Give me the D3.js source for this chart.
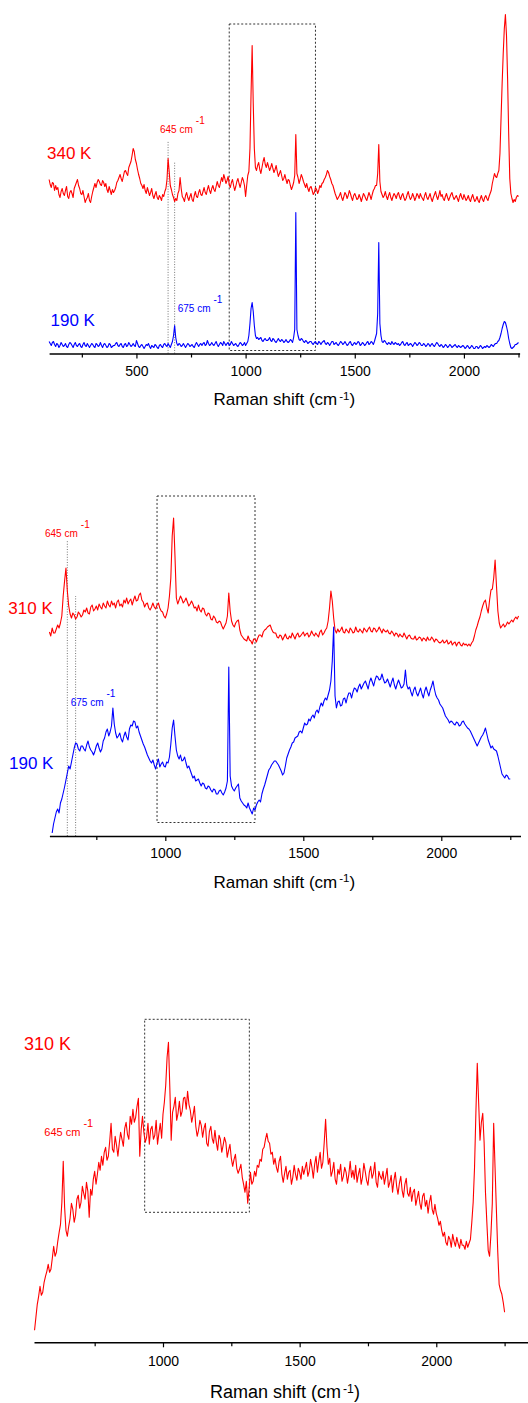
<!DOCTYPE html>
<html>
<head>
<meta charset="utf-8">
<script src="https://cdn.jsdelivr.net/npm/d3@7/dist/d3.min.js"></script>
<style>
  html, body { margin: 0; padding: 0; background: #fff; }
  svg { display: block; }
  text { font-family: "Liberation Sans", Arial, Helvetica, sans-serif; }
</style>
</head>
<body>
<svg id="chart" width="528" height="1403"></svg>
<script>
// Raman spectra, sampled every 5 cm-1. Intensities are in arbitrary units,
// with the stacking offset of each trace already included.
const gridStep = 5;

// Panel A: 340 K and 190 K, 100-2250 cm-1 (one row = 100 cm-1)
const red340Start = 100;
const red340 = [
  174,169,166,171,170,163,168,164,166,159,156,162,165,160,158,163,167,157,155,161,
  163,160,156,165,168,171,174,168,165,160,159,163,157,151,154,156,160,153,151,157,
  162,166,170,166,171,174,172,169,168,173,171,167,170,164,161,167,163,159,164,161,
  163,166,171,173,176,179,175,172,177,182,183,180,178,186,189,192,198,205,202,194,
  190,184,179,175,170,168,165,169,163,160,166,162,158,161,165,158,155,159,162,156,
  154,158,156,153,159,157,162,165,174,195,182,168,164,159,156,152,155,153,160,163,
  176,165,157,155,152,158,161,156,153,157,160,154,152,158,162,157,156,161,164,159,
  158,162,166,161,159,164,168,163,160,165,168,164,162,167,172,168,166,171,176,172,
  179,175,170,173,177,169,166,171,174,168,163,167,172,175,170,166,171,176,173,168,
  157,168,178,182,205,260,308,250,205,186,183,188,191,184,180,186,192,196,189,186,
  191,187,183,186,190,185,181,184,188,182,177,180,183,178,173,175,179,174,170,174,
  173,168,164,167,171,178,219,180,176,170,174,179,176,172,169,166,170,165,162,166,
  167,163,159,161,166,164,160,163,168,166,170,171,174,176,179,183,181,177,174,170,
  168,164,160,157,154,156,158,161,156,153,157,161,159,155,158,163,160,156,153,158,
  160,157,154,155,159,156,152,156,160,158,155,153,157,161,158,154,159,163,165,168,
  168,180,209,172,162,159,156,158,162,157,154,158,161,156,153,157,160,158,155,159,
  161,157,154,158,160,156,153,155,159,162,157,154,156,160,157,153,156,160,158,155,
  160,157,155,153,158,161,156,154,157,160,155,152,156,159,162,157,154,158,163,157,
  159,155,153,157,160,156,153,156,159,161,157,154,156,158,155,152,157,160,156,154,
  159,156,153,155,158,154,152,156,159,155,152,154,157,153,151,155,158,154,152,156,
  158,155,153,157,160,163,170,175,180,177,176,180,183,200,235,270,300,325,339,318,
  275,220,175,160,155,151,154,152,156,158,157
];
const blue190aStart = 100;
const blue190a = [
  12,10,8,11,12,9,7,10,9,6,8,11,9,7,8,10,7,6,9,11,
  10,8,6,9,11,8,7,9,10,7,6,9,11,8,7,10,8,6,8,10,
  9,7,6,10,9,7,8,11,8,6,9,10,8,6,7,10,9,6,7,8,
  8,10,11,8,7,9,10,7,6,9,10,7,8,11,9,7,8,10,8,7,
  13,10,7,6,8,9,7,5,7,9,8,10,7,5,8,7,6,9,8,6,
  5,8,9,7,6,9,10,8,7,10,8,6,9,12,18,28,16,10,8,10,
  9,7,8,10,8,6,8,10,9,7,8,9,7,6,9,11,9,7,9,10,
  8,10,11,8,9,13,10,8,9,11,9,8,10,12,9,7,9,11,10,8,
  12,10,8,10,11,8,9,12,10,8,9,10,8,7,9,11,10,8,9,11,
  8,10,12,18,30,45,51,42,28,18,15,16,14,15,16,13,12,14,15,13,
  13,14,16,13,12,15,14,12,11,13,15,13,12,14,13,11,12,14,12,11,
  12,14,13,11,16,24,141,24,18,14,13,15,14,12,11,13,12,10,11,12,
  12,10,9,11,12,10,9,12,11,9,11,12,13,10,9,11,10,8,10,12,
  12,9,10,11,9,8,10,12,11,9,10,12,10,8,9,11,12,9,8,10,
  11,9,10,12,11,8,9,11,10,8,9,11,12,9,10,12,11,9,12,16,
  20,40,111,30,18,12,11,13,12,10,9,11,10,9,12,10,9,11,10,9,
  10,8,9,11,12,9,8,10,11,8,9,10,9,7,9,11,10,8,9,11,
  10,8,8,10,9,7,8,10,9,7,9,10,8,7,9,11,10,8,7,9,
  8,6,7,9,8,6,7,9,8,6,7,8,9,7,6,8,7,6,7,8,
  7,5,6,8,7,5,6,8,7,5,5,7,7,5,6,8,7,5,6,7,
  6,8,7,6,7,9,8,7,9,10,10,12,13,16,20,25,29,32,31,27,
  22,15,10,6,5,6,7,9,9,10,11
];

// Panel B: 310 K (580-2280 cm-1) and 190 K (590-2250 cm-1)
const red310bStart = 580;
const red310b = [
  204,200,208,203,
  203,207,211,208,213,220,240,255,268,245,230,222,218,223,221,217,219,224,222,219,
  221,226,224,228,223,222,229,231,225,227,230,226,232,229,227,233,230,228,235,231,
  229,235,231,233,228,234,236,230,232,229,236,233,238,232,235,237,231,236,240,235,
  236,241,243,236,234,229,232,233,228,226,229,233,229,227,231,233,228,225,224,220,
  218,222,228,240,258,300,318,280,238,232,236,240,237,233,235,238,234,230,232,235,
  232,228,229,225,231,226,224,228,227,222,220,223,222,217,216,220,218,214,213,215,
  214,210,207,210,213,220,243,225,215,211,209,213,215,216,206,201,199,197,196,195,
  200,196,195,192,197,197,194,198,201,201,199,204,206,207,209,210,211,207,204,203,
  203,199,198,201,200,196,199,202,198,197,200,198,203,200,197,201,203,199,200,202,
  204,200,202,203,199,201,205,202,200,203,201,199,204,206,201,203,206,208,215,228,
  245,235,218,206,203,207,204,206,209,204,203,207,205,203,208,206,203,204,209,205,
  204,207,205,203,208,206,204,207,209,205,204,208,207,204,206,209,206,203,207,205,
  204,206,203,202,205,203,200,203,202,199,202,200,199,203,200,197,200,201,198,197,
  197,200,196,197,199,198,195,198,197,195,199,196,196,199,197,194,197,196,194,193,
  194,196,193,194,196,192,193,195,191,193,194,190,193,194,191,190,193,191,192,190,
  192,190,193,195,200,206,210,215,219,225,230,234,236,228,223,236,246,247,258,276,
  250,225,213,208,210,212,209,211,214,212,214,216,214,217,219,217,220
];
const blue190bStart = 590;
const blue190b = [
  3,12,
  18,24,27,23,33,37,43,49,56,63,70,67,74,81,88,93,92,87,85,90,
  90,87,85,91,95,89,86,84,81,85,90,93,88,84,87,95,98,104,107,100,
  104,110,128,112,103,98,100,103,97,94,100,104,99,96,107,111,110,115,114,108,
  110,104,100,96,92,89,85,81,78,75,73,76,71,67,73,77,69,72,74,70,
  69,74,73,79,92,108,116,100,86,80,77,81,75,76,79,73,68,70,66,62,
  58,60,55,56,57,53,50,53,52,48,47,50,49,46,44,47,46,42,42,45,
  46,43,41,44,48,55,169,60,50,47,45,48,50,52,38,35,33,31,30,28,
  33,28,25,22,28,26,31,34,36,34,42,47,51,56,61,66,68,71,73,75,
  75,73,71,68,65,61,63,70,78,82,86,89,93,94,98,99,100,104,105,103,
  108,113,111,112,117,115,119,121,118,124,126,123,129,133,130,135,138,136,141,146,
  155,175,209,140,128,134,135,130,131,137,138,133,139,143,143,138,144,148,147,144,
  149,152,147,150,153,155,151,147,154,158,154,150,156,160,159,156,157,162,157,153,
  154,157,153,149,154,158,151,147,152,156,152,148,149,152,166,151,147,149,144,140,
  146,149,143,140,144,148,142,138,145,149,144,140,146,150,155,147,141,138,136,132,
  130,128,124,120,118,116,113,115,114,112,111,114,113,110,111,114,115,112,110,108,
  107,105,102,99,96,93,90,93,96,99,101,104,108,102,96,92,88,90,87,86,
  85,80,74,68,62,60,58,61,60,57,57
];

// Panel C: 310 K, 530-2250 cm-1
const red310cStart = 530;
const red310c = [
  12,25,38,46,56,47,50,60,66,71,78,70,73,84,
  96,86,90,101,110,118,140,181,135,112,106,116,124,139,133,120,127,143,147,134,
  140,156,149,143,160,151,125,153,147,163,171,158,168,180,172,186,177,190,195,182,
  186,201,219,193,190,206,197,186,199,210,203,196,214,220,208,203,226,218,233,220,
  225,236,244,186,212,226,210,200,205,219,198,213,216,203,207,222,198,209,219,204,
  228,240,257,285,300,255,202,230,236,245,222,229,241,226,231,244,245,233,251,238,
  232,220,227,236,216,206,212,222,217,205,214,219,199,196,211,216,204,199,212,200,
  192,207,203,190,197,205,200,185,192,198,184,176,183,188,174,169,173,178,165,158,
  150,161,139,153,170,158,161,171,166,177,175,183,181,193,195,203,209,201,199,188,
  190,178,184,175,170,181,186,168,160,169,176,163,170,172,158,165,177,168,162,174,
  170,163,176,168,174,180,166,171,183,175,164,178,186,170,181,190,174,180,200,223,
  195,178,184,166,171,180,163,158,173,168,178,161,166,175,170,159,168,181,165,172,
  163,177,160,168,174,158,165,179,171,162,157,170,176,164,169,180,160,155,171,166,
  163,171,158,166,174,155,160,167,150,162,170,156,148,159,166,152,145,158,164,149,
  146,155,141,150,153,137,144,151,139,133,146,149,136,142,129,140,147,133,128,138,
  129,124,117,121,112,106,110,100,97,106,103,95,108,101,96,105,99,94,103,97,
  97,93,101,95,99,103,120,140,175,230,279,240,202,220,229,200,150,120,92,86,
  108,139,219,175,132,90,58,52,48,40,30
];

// Axis ticks (cm-1)
const majorTicksA = [500, 1000, 1500, 2000];
const minorTicksA = [250, 750, 1250, 1750, 2250];
const majorTicksBC = [1000, 1500, 2000];
const minorTicksBC = [750, 1250, 1750, 2250];

// Band markers and highlighted region (cm-1 / intensity)
const bandA = [{ shift: 645, top: 213 }, { shift: 675, top: 191 }];
const bandB = [{ shift: 645, top: 296 }, { shift: 675, top: 240 }];
const regionA = { from: 925, to: 1320, low: 3, high: 329.5 };
const regionB = { from: 970, to: 1325, low: 13.5, high: 340 };
const regionC = { from: 933, to: 1316, low: 130, high: 323 };

const toPoints = (start, vals) => vals.map((v, i) => [start + i * gridStep, v]);

const RED = "#ff0000", BLUE = "#0000ff";

const panels = [
  {
    axisY: 353.5, xDomain: [100, 2255], xRange: [49.1, 519.6],
    majors: majorTicksA, minors: minorTicksA, tickFont: 14, tickLabelY: 22.5,
    title: { x: 213.5, y: 405, size: 17 },
    series: [
      { pts: toPoints(red340Start, red340), color: RED },
      { pts: toPoints(blue190aStart, blue190a), color: BLUE }
    ],
    region: regionA, bands: bandA,
    labels: [
      { text: "340 K", x: 47, y: 158.5, size: 17, color: RED },
      { text: "190 K", x: 50.5, y: 325.5, size: 17, color: BLUE }
    ],
    notes: [
      { x: 160, y: 132.7, size: 10, color: RED, main: "645 cm", sup: "-1" },
      { x: 177.7, y: 311.7, size: 10, color: BLUE, main: "675 cm", sup: "-1" }
    ]
  },
  {
    axisY: 836, xDomain: [580, 2287], xRange: [49.4, 520.5],
    majors: majorTicksBC, minors: minorTicksBC, tickFont: 14, tickLabelY: 22.3,
    title: { x: 213.5, y: 887.5, size: 17 },
    series: [
      { pts: toPoints(red310bStart, red310b), color: RED },
      { pts: toPoints(blue190bStart, blue190b), color: BLUE }
    ],
    region: regionB, bands: bandB,
    labels: [
      { text: "310 K", x: 8.3, y: 614, size: 17, color: RED },
      { text: "190 K", x: 9, y: 768.5, size: 17, color: BLUE }
    ],
    notes: [
      { x: 45, y: 536.7, size: 10, color: RED, main: "645 cm", sup: "-1" },
      { x: 70.7, y: 706, size: 10, color: BLUE, main: "675 cm", sup: "-1" }
    ]
  },
  {
    axisY: 1342.3, xDomain: [528, 2340], xRange: [34, 529.2],
    majors: majorTicksBC, minors: minorTicksBC, tickFont: 14, tickLabelY: 23.7,
    title: { x: 210, y: 1398.3, size: 18 },
    series: [
      { pts: toPoints(red310cStart, red310c), color: RED }
    ],
    region: regionC, bands: [],
    labels: [
      { text: "310 K", x: 24, y: 1049.5, size: 18, color: RED }
    ],
    notes: [
      { x: 44.3, y: 1135.7, size: 11, color: RED, main: "645 cm", sup: "-1" }
    ]
  }
];

const svg = d3.select("#chart");
svg.append("rect").attr("width", 528).attr("height", 1403).attr("fill", "#fff");

panels.forEach(p => {
  const x = d3.scaleLinear().domain(p.xDomain).range(p.xRange);
  const y = d3.scaleLinear().domain([0, 340]).range([p.axisY, p.axisY - 340]);
  const g = svg.append("g");

  // band marker lines
  p.bands.forEach(b => {
    g.append("line")
      .attr("x1", x(b.shift)).attr("x2", x(b.shift))
      .attr("y1", y(0)).attr("y2", y(b.top))
      .attr("stroke", "#666").attr("stroke-width", 0.9)
      .attr("stroke-dasharray", "1,1.6");
  });

  // highlighted region
  const r = p.region;
  g.append("rect")
    .attr("x", x(r.from)).attr("y", y(r.high))
    .attr("width", x(r.to) - x(r.from)).attr("height", y(r.low) - y(r.high))
    .attr("fill", "none").attr("stroke", "#333").attr("stroke-width", 1)
    .attr("stroke-dasharray", "2,2");

  // spectra
  const line = d3.line().x(d => x(d[0])).y(d => y(d[1]));
  p.series.forEach(s => {
    g.append("path").datum(s.pts)
      .attr("d", line)
      .attr("fill", "none").attr("stroke", s.color)
      .attr("stroke-width", 1.1).attr("stroke-linejoin", "round");
  });

  // x axis: major ticks with labels, minor ticks without
  const axG = g.append("g").attr("transform", `translate(0,${p.axisY})`);
  axG.call(d3.axisBottom(x).tickValues(p.majors).tickSize(5).tickSizeOuter(0)
      .tickFormat(d3.format("d")));
  axG.select(".domain").attr("stroke", "#000").attr("stroke-width", 1.5);
  axG.selectAll(".tick line").attr("stroke", "#000").attr("stroke-width", 1.2);
  axG.selectAll(".tick text")
    .attr("y", p.tickLabelY).attr("dy", 0)
    .attr("font-size", p.tickFont)
    .attr("font-family", "Liberation Sans, Arial, sans-serif")
    .attr("fill", "#000");

  const minG = g.append("g").attr("transform", `translate(0,${p.axisY})`);
  minG.call(d3.axisBottom(x).tickValues(p.minors).tickSize(4).tickFormat(""));
  minG.select(".domain").remove();
  minG.selectAll(".tick line").attr("stroke", "#000").attr("stroke-width", 1.2);

  // axis title with superscript
  const t = g.append("text")
    .attr("x", p.title.x).attr("y", p.title.y)
    .attr("font-size", p.title.size).attr("fill", "#000");
  t.append("tspan").text("Raman shift (cm");
  t.append("tspan").attr("dx", 2).attr("dy", -5.5)
    .attr("font-size", p.title.size * 0.68).text("-1");
  t.append("tspan").attr("dy", 5.5).text(")");

  // temperature labels
  p.labels.forEach(l => {
    g.append("text").attr("x", l.x).attr("y", l.y)
      .attr("font-size", l.size).attr("fill", l.color).text(l.text);
  });

  // band annotations
  p.notes.forEach(n => {
    const nt = g.append("text").attr("x", n.x).attr("y", n.y)
      .attr("font-size", n.size).attr("fill", n.color);
    nt.append("tspan").text(n.main);
    nt.append("tspan").attr("dx", 3).attr("dy", -9).text(n.sup);
  });
});
</script>
</body>
</html>
